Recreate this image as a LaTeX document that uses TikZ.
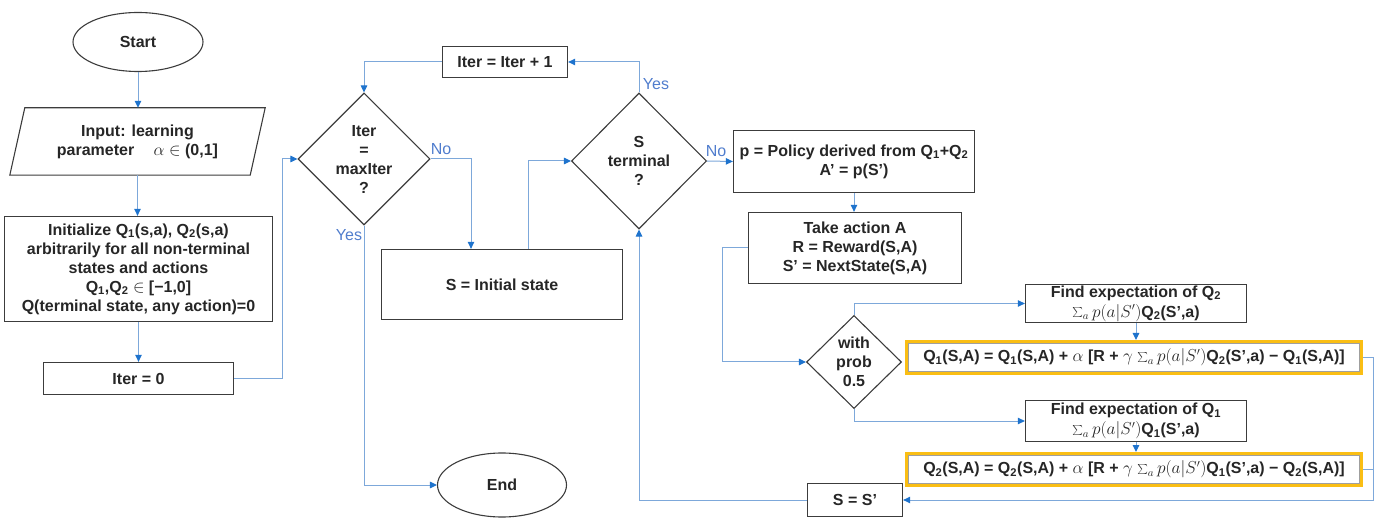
\documentclass[tikz,border=0pt]{standalone}
\usepackage{fontspec}
\setmainfont{Liberation Sans}
\usetikzlibrary{shapes.geometric,arrows.meta}
\definecolor{lineblue}{RGB}{125,168,218}
\definecolor{tipblue}{RGB}{30,115,205}
\definecolor{lblblue}{RGB}{80,125,205}
\definecolor{gold}{RGB}{250,190,20}
\definecolor{edge}{RGB}{60,60,60}
\tikzset{
 base/.style={font=\fontsize{16}{19}\selectfont\bfseries, align=center, inner sep=0pt, text=black!85},
 box/.style={base, draw=edge, line width=1.3pt, rectangle},
 term/.style={base, draw=edge, line width=1.1pt, ellipse},
 dec/.style={base, draw=edge, line width=1.1pt, diamond},
 plain/.style={base},
 upd/.style={base, draw=gold, line width=2.6pt, rectangle,
   path picture={\draw[gray!75, line width=0.6pt]
     ([xshift=2pt,yshift=-2pt]path picture bounding box.north west) rectangle
     ([xshift=-2pt,yshift=2pt]path picture bounding box.south east);}},
 conn/.style={draw=lineblue, line width=1pt},
 arr/.style={conn, -{Triangle[length=7pt,width=6.5pt,color=tipblue]}},
 lbl/.style={text=lblblue, font=\fontsize{16}{19}\selectfont, inner sep=0pt},
}
\begin{document}
\begin{tikzpicture}[x=1pt,y=-1pt]
\useasboundingbox (0,0) rectangle (1376,518);
% left column
\node[term, minimum width=130, minimum height=59] (start) at (138,42) {Start};
\node[plain, minimum width=255, minimum height=67] (input) at (137.5,141.5) {Input: learning\\parameter\hspace{1.2em}$\alpha\in$ (0,1]};
\draw[draw=edge, line width=1.1pt] ([xshift=15pt]input.north west) -- (input.north east) -- ([xshift=-15pt]input.south east) -- (input.south west) -- cycle;
\node[box, minimum width=268, minimum height=105] (init) at (138.5,269) {Initialize Q\textsubscript{1}(s,a), Q\textsubscript{2}(s,a)\\arbitrarily for all non-terminal\\states and actions\\Q\textsubscript{1},Q\textsubscript{2} $\in$ [−1,0]\\Q(terminal state, any action)=0};
\node[box, minimum width=190, minimum height=32] (iter0) at (138.5,378.5) {Iter = 0};
% middle
\node[dec, minimum width=132, minimum height=132] (d1) at (364,159) {Iter\\=\\maxIter\\?};
\node[box, minimum width=125, minimum height=31] (iterinc) at (505,62) {Iter = Iter + 1};
\node[box, minimum width=241, minimum height=70] (sinit) at (502,284.5) {S = Initial state};
\node[term, minimum width=129, minimum height=64] (end) at (502,485) {End};
\node[dec, minimum width=135, minimum height=136] (d2) at (639,161) {S\\terminal\\?};
% right
\node[box, minimum width=241, minimum height=62] (pbox) at (854,161.5) {p = Policy derived from Q\textsubscript{1}+Q\textsubscript{2}\\A' = p(S')};
\node[box, minimum width=213, minimum height=71] (take) at (855,248) {Take action A\\R = Reward(S,A)\\S' = NextState(S,A)};
\node[dec, minimum width=95, minimum height=93] (d3) at (854,362) {with\\prob\\0.5};
\node[box, minimum width=221, minimum height=38] (fq2) at (1136,303.5) {Find expectation of Q\textsubscript{2}\\[1pt]$\sum_a p(a|S')$Q\textsubscript{2}(S',a)};
\node[upd, minimum width=455.4, minimum height=32.4] (q1) at (1134,357.5) {Q\textsubscript{1}(S,A) = Q\textsubscript{1}(S,A) + $\alpha$ [R + $\gamma$ $\sum_a p(a|S')$Q\textsubscript{2}(S',a) − Q\textsubscript{1}(S,A)]};
\node[box, minimum width=221, minimum height=41] (fq1) at (1136,421) {Find expectation of Q\textsubscript{1}\\[1pt]$\sum_a p(a|S')$Q\textsubscript{1}(S',a)};
\node[upd, minimum width=455.4, minimum height=32.4] (q2) at (1134,469.5) {Q\textsubscript{2}(S,A) = Q\textsubscript{2}(S,A) + $\alpha$ [R + $\gamma$ $\sum_a p(a|S')$Q\textsubscript{1}(S',a) − Q\textsubscript{2}(S,A)]};
\node[box, minimum width=95, minimum height=33] (ss) at (855,500) {S = S'};
% labels
\node[lbl] (no1) at (441,149) {No};
\node[lbl] (yes1) at (349,235) {Yes};
\node[lbl] (yes2) at (656,84) {Yes};
\node[lbl] (no2) at (716,151) {No};
% connectors
\draw[arr] (start.south) -- (start.south |- input.north);
\draw[arr] (input.south) -- (input.south |- init.north);
\draw[arr] (init.south) -- (init.south |- iter0.north);
\draw[arr] (iter0.east) -- ++(48,0) |- (d1.west);
\draw[arr] (iterinc.west) -| (d1.north);
\draw[arr] (d1.east) -| ([xshift=-31pt]sinit.north);
\draw[arr] (d1.south) |- (end.west);
\draw[arr] ([xshift=26pt]sinit.north) |- (d2.west);
\draw[arr] (d2.north) |- (iterinc.east);
\draw[arr] (d2.east) -- (pbox.west);
\draw[arr] (pbox.south) -- (pbox.south |- take.north);
\draw[arr] (take.west) -- ++(-25,0) |- (d3.west);
\draw[arr] (d3.north) |- (fq2.west);
\draw[arr] (d3.south) |- (fq1.west);
\draw[arr] (fq2.south) -- (fq2.south |- q1.north);
\draw[arr] (fq1.south) -- (fq1.south |- q2.north);
\draw[arr] (q1.east) -- ++(10,0) |- (ss.east);
\draw[conn] (q2.east) -- ++(10,0);
\draw[arr] (ss.west) -| (d2.south);
\end{tikzpicture}
\end{document}
